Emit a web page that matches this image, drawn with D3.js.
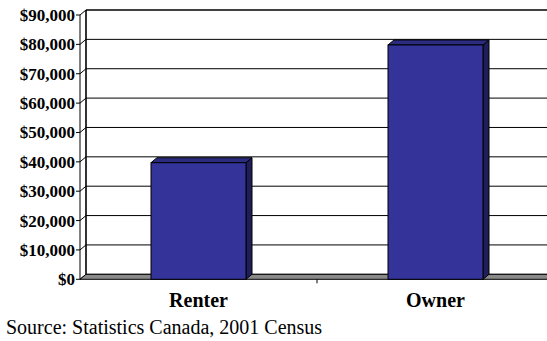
<!DOCTYPE html>
<html>
<head>
<meta charset="utf-8">
<script src="https://cdn.jsdelivr.net/npm/d3@7/dist/d3.min.js"></script>
<style>
  html, body { margin: 0; padding: 0; background: #fff; }
  svg { display: block; }
</style>
</head>
<body>
<svg id="chart" width="547" height="341"></svg>
<script>
// Average household income by tenure
const categories = ["Renter", "Owner"];
const incomes = [39700, 79800];
const tickValues = [0, 10000, 20000, 30000, 40000, 50000, 60000, 70000, 80000, 90000];
const tickLabels = ["$0", "$10,000", "$20,000", "$30,000", "$40,000", "$50,000", "$60,000", "$70,000", "$80,000", "$90,000"];
const sourceNote = "Source: Statistics Canada, 2001 Census";

const svg = d3.select("#chart");
const serif = "'Liberation Serif', 'Times New Roman', serif";

// 3-D depth offset of the plot box
const DX = 6, DY = -5;
const left = 80, right = 554;

const y = d3.scaleLinear().domain([0, 90000]).range([279.3, 15]);
const x = d3.scaleBand().domain(categories).range([left, right]);
const barW = 95;

const line = d3.line();

// back wall gridlines
const grid = svg.append("g");
tickValues.forEach(v => {
  grid.append("line")
    .attr("x1", left + DX).attr("x2", 560)
    .attr("y1", y(v) + DY).attr("y2", y(v) + DY)
    .attr("stroke", "#000")
    .attr("stroke-width", v === 90000 ? 1.6 : 1);
});

// side wall
svg.append("path")
  .attr("d", line([[left, y(0)], [left, y(90000)], [left + DX, y(90000) + DY], [left + DX, y(0) + DY]]) + "Z")
  .attr("fill", "#fff").attr("stroke", "none");
tickValues.forEach(v => {
  svg.append("line")
    .attr("x1", left).attr("y1", y(v))
    .attr("x2", left + DX).attr("y2", y(v) + DY)
    .attr("stroke", "#000").attr("stroke-width", 1);
});
svg.append("line")
  .attr("x1", left + DX).attr("x2", left + DX)
  .attr("y1", y(90000) + DY).attr("y2", y(0) + DY)
  .attr("stroke", "#000").attr("stroke-width", 1.6);

// floor
svg.append("path")
  .attr("d", line([[left, y(0)], [left + DX, y(0) + DY], [right + DX, y(0) + DY], [right, y(0)]]) + "Z")
  .attr("fill", "#8a8a8a").attr("stroke", "#000").attr("stroke-width", 1);

// value axis: front line, ticks, labels
svg.append("line")
  .attr("x1", left).attr("x2", left)
  .attr("y1", y(90000)).attr("y2", y(0))
  .attr("stroke", "#000").attr("stroke-width", 1);
const yAxis = svg.append("g");
tickValues.forEach((v, i) => {
  yAxis.append("line")
    .attr("x1", left - 4).attr("x2", left)
    .attr("y1", y(v)).attr("y2", y(v))
    .attr("stroke", "#000");
  yAxis.append("text")
    .attr("x", left - 5).attr("y", y(v) + 6)
    .attr("text-anchor", "end")
    .attr("font-family", serif).attr("font-weight", "bold").attr("font-size", 17)
    .text(tickLabels[i]);
});

// bars
const bars = svg.append("g");
categories.forEach((c, i) => {
  const x0 = x(c) + (x.bandwidth() - barW) / 2, x1 = x0 + barW;
  const yv = y(incomes[i]), y0 = y(0);
  bars.append("path")
    .attr("d", line([[x1, yv], [x1 + DX, yv + DY], [x1 + DX, y0 + DY], [x1, y0]]) + "Z")
    .attr("fill", "#1e1e5a").attr("stroke", "#000").attr("stroke-width", 1);
  bars.append("path")
    .attr("d", line([[x0, yv], [x0 + DX, yv + DY], [x1 + DX, yv + DY], [x1, yv]]) + "Z")
    .attr("fill", "#2b2b80").attr("stroke", "#000").attr("stroke-width", 1);
  bars.append("rect")
    .attr("x", x0).attr("y", yv)
    .attr("width", barW).attr("height", y0 - yv)
    .attr("fill", "#333399").attr("stroke", "#000").attr("stroke-width", 1);
});

// category axis: divider tick and labels
svg.append("line")
  .attr("x1", x("Owner")).attr("x2", x("Owner"))
  .attr("y1", y(0)).attr("y2", y(0) + 4)
  .attr("stroke", "#000");
categories.forEach(c => {
  svg.append("text")
    .attr("x", x(c) + x.bandwidth() / 2).attr("y", 307)
    .attr("text-anchor", "middle")
    .attr("font-family", serif).attr("font-weight", "bold").attr("font-size", 20)
    .text(c);
});

svg.append("text")
  .attr("x", 6).attr("y", 334)
  .attr("font-family", serif).attr("font-size", 20)
  .text(sourceNote);
</script>
</body>
</html>
